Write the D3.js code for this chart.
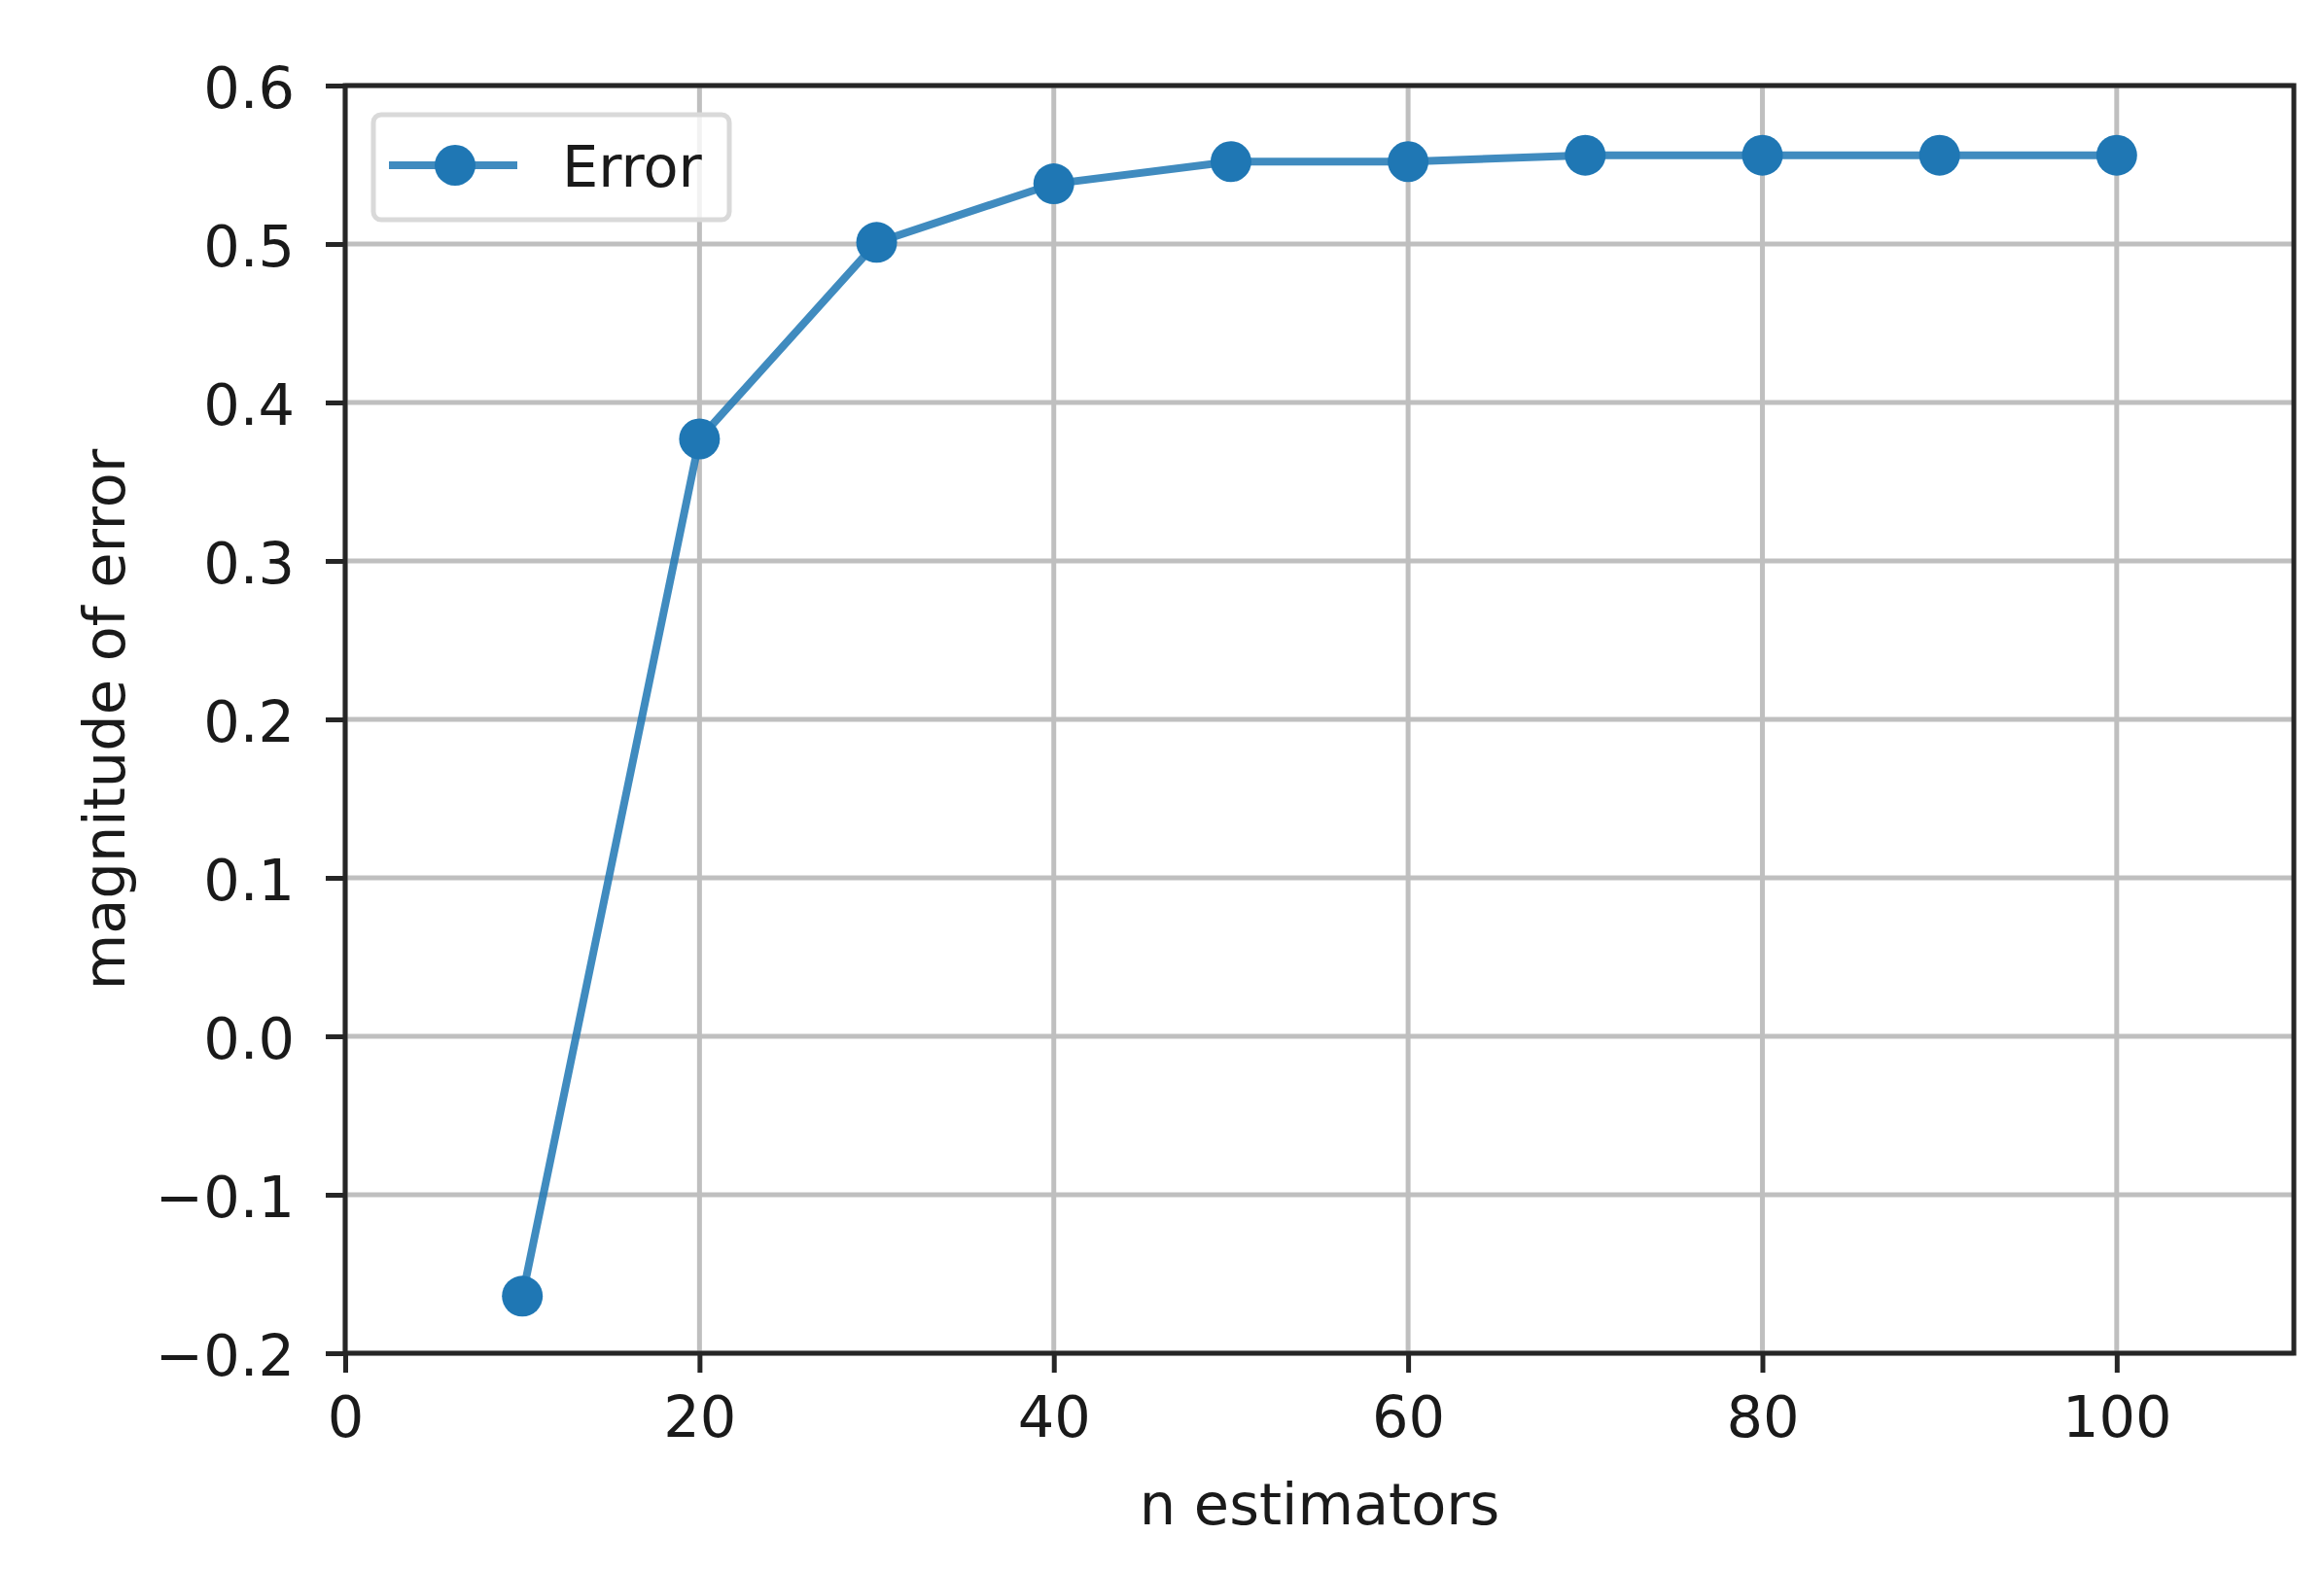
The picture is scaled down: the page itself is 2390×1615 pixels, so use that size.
<!DOCTYPE html>
<html>
<head>
<meta charset="utf-8">
<script src="https://cdn.jsdelivr.net/npm/d3@7"></script>
<style>
  body { margin: 0; background: #fff; }
  text { font-family: "DejaVu Sans", sans-serif; fill: #1a1a1a; }
</style>
</head>
<body>
<svg width="2390" height="1615"></svg>
<script>
// data
const nEstimators = [10, 20, 30, 40, 50, 60, 70, 80, 90, 100];
const errorValues = [-0.164, 0.377, 0.501, 0.538, 0.552, 0.552, 0.556, 0.556, 0.556, 0.556];
const xTicks = [0, 20, 40, 60, 80, 100];
const yTicks = [-0.2, -0.1, 0.0, 0.1, 0.2, 0.3, 0.4, 0.5, 0.6];

const svg = d3.select("svg");
const margin = {left: 355, right: 31, top: 88, bottom: 223};
const width = +svg.attr("width");
const height = +svg.attr("height");

const x = d3.scaleLinear().domain([0, 110]).range([margin.left, width - margin.right]);
const y = d3.scaleLinear().domain([-0.2, 0.6]).range([height - margin.bottom, margin.top]);

const blue = "#1f77b4";
const fontSize = 59;

// grid
svg.append("g")
    .selectAll("line")
    .data(xTicks)
    .enter()
    .append("line")
    .attr("x1", d => x(d)).attr("x2", d => x(d))
    .attr("y1", y(-0.2)).attr("y2", y(0.6))
    .attr("stroke", "#bfbfbf")
    .attr("stroke-width", 5);

svg.append("g")
    .selectAll("line")
    .data(yTicks)
    .enter()
    .append("line")
    .attr("x1", x(0)).attr("x2", x(110))
    .attr("y1", d => y(d)).attr("y2", d => y(d))
    .attr("stroke", "#bfbfbf")
    .attr("stroke-width", 5);

// axes
const xAxis = svg.append("g")
    .attr("transform", `translate(0,${y(-0.2)})`)
    .call(d3.axisBottom(x).tickValues(xTicks).tickSize(20).tickPadding(24).tickSizeOuter(0));
const yAxis = svg.append("g")
    .attr("transform", `translate(${x(0)},0)`)
    .call(d3.axisLeft(y).tickValues(yTicks).tickFormat(d3.format(".1f")).tickSize(20).tickPadding(32).tickSizeOuter(0));

[xAxis, yAxis].forEach(a => {
  a.select(".domain").remove();
  a.selectAll(".tick line").attr("stroke", "#262626").attr("stroke-width", 5);
  a.selectAll(".tick text")
      .attr("font-size", fontSize)
      .attr("font-family", "DejaVu Sans")
      .attr("fill", "#1a1a1a");
});
yAxis.selectAll(".tick text").attr("dy", "0.38em");

// frame
svg.append("rect")
    .attr("x", x(0)).attr("y", y(0.6))
    .attr("width", x(110) - x(0))
    .attr("height", y(-0.2) - y(0.6))
    .attr("fill", "none")
    .attr("stroke", "#262626")
    .attr("stroke-width", 5);

// line + markers
const line = d3.line()
    .x((d, i) => x(nEstimators[i]))
    .y(d => y(d));

svg.append("path")
    .datum(errorValues)
    .attr("d", line)
    .attr("fill", "none")
    .attr("stroke", blue)
    .attr("stroke-opacity", 0.85)
    .attr("stroke-width", 8);

svg.append("g")
    .selectAll("circle")
    .data(errorValues)
    .enter()
    .append("circle")
    .attr("cx", (d, i) => x(nEstimators[i]))
    .attr("cy", d => y(d))
    .attr("r", 21)
    .attr("fill", blue);

// labels
svg.append("text")
    .attr("x", (x(0) + x(110)) / 2)
    .attr("y", 1568)
    .attr("text-anchor", "middle")
    .attr("font-size", fontSize)
    .text("n estimators");

svg.append("text")
    .attr("transform", `translate(128,${(y(-0.2) + y(0.6)) / 2}) rotate(-90)`)
    .attr("text-anchor", "middle")
    .attr("font-size", fontSize)
    .text("magnitude of error");

// legend
const legend = svg.append("g");
legend.append("rect")
    .attr("x", 384).attr("y", 118)
    .attr("width", 366).attr("height", 108)
    .attr("rx", 8)
    .attr("fill", "#fff")
    .attr("fill-opacity", 0.8)
    .attr("stroke", "#d9d9d9")
    .attr("stroke-width", 5);
legend.append("line")
    .attr("x1", 400).attr("x2", 532)
    .attr("y1", 170).attr("y2", 170)
    .attr("stroke", blue)
    .attr("stroke-opacity", 0.85)
    .attr("stroke-width", 8);
legend.append("circle")
    .attr("cx", 468).attr("cy", 170)
    .attr("r", 21)
    .attr("fill", blue);
legend.append("text")
    .attr("x", 578).attr("y", 192)
    .attr("font-size", fontSize)
    .text("Error");
</script>
</body>
</html>
